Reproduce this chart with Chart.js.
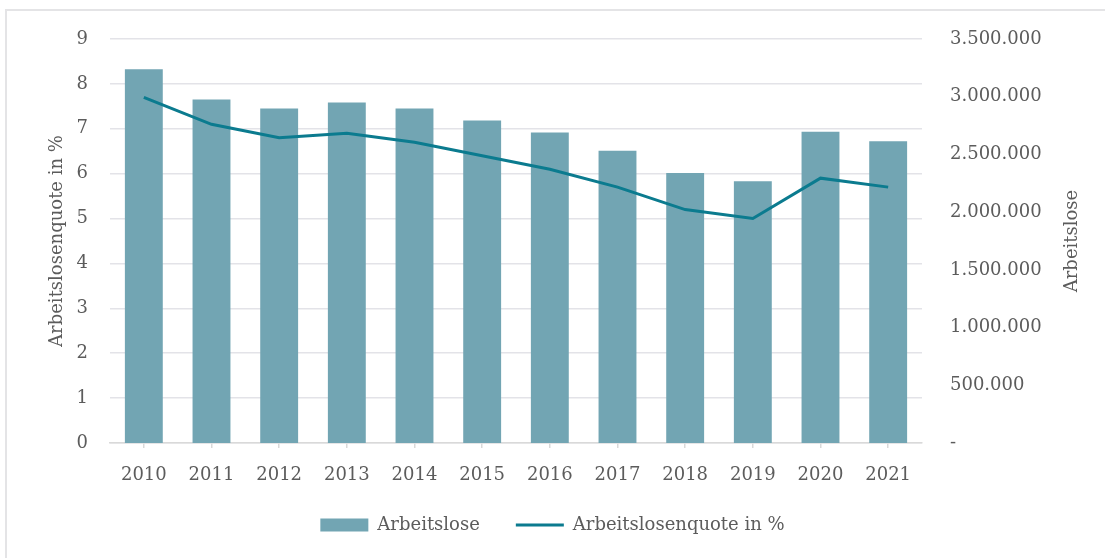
<!DOCTYPE html>
<html>
<head>
<meta charset="utf-8">
<script src="https://cdn.jsdelivr.net/npm/chart.js@4/dist/chart.umd.min.js"></script>
<style>
  html, body { margin: 0; padding: 0; background: #ffffff; }
  body { width: 1105px; height: 558px; position: relative; overflow: hidden; }
  #frame { position: absolute; left: 5px; top: 9px; width: 1200px; height: 700px;
           border-left: 2px solid #e4e4e6; border-top: 2px solid #e4e4e6; }
  #wrap { position: absolute; left: 0; top: 0; width: 1105px; height: 558px; }
</style>
</head>
<body>
<div id="frame"></div>
<div id="wrap"><canvas id="c" width="1105" height="558"></canvas></div>
<script>
const years = ['2010','2011','2012','2013','2014','2015','2016','2017','2018','2019','2020','2021'];
const arbeitslose = [3238965, 2975823, 2896985, 2950338, 2898388, 2794664, 2690975, 2532837, 2340082, 2266720, 2695444, 2613489];
const quote = [7.7, 7.1, 6.8, 6.9, 6.7, 6.4, 6.1, 5.7, 5.2, 5.0, 5.9, 5.7];
const leftTitle = 'Arbeitslosenquote in %';
const rightTitle = 'Arbeitslose';

const FONT = "'DejaVu Serif', serif";
const TXT = '#5c5c5c';

function fmtDE(v) {
  if (v === 0) return '-';
  return String(Math.round(v)).replace(/\B(?=(\d{3})+(?!\d))/g, '.');
}

const rightTitlePlugin = {
  id: 'rightTitle',
  afterDraw(chart) {
    const ctx = chart.ctx;
    const a = chart.chartArea;
    ctx.save();
    ctx.translate(1072, (a.top + a.bottom) / 2);
    ctx.rotate(-Math.PI / 2);
    ctx.font = "18px " + FONT;
    ctx.fillStyle = TXT;
    ctx.textAlign = 'center';
    ctx.textBaseline = 'middle';
    ctx.fillText(rightTitle, 0, 0);
    ctx.restore();
  }
};

new Chart(document.getElementById('c'), {
  data: {
    labels: years,
    datasets: [
      {
        type: 'line',
        label: 'Arbeitslosenquote in %',
        data: quote,
        yAxisID: 'y',
        borderColor: '#0b7b8f',
        backgroundColor: '#0b7b8f',
        borderWidth: 3,
        pointRadius: 0,
        pointHoverRadius: 0,
        pointStyle: 'line',
        tension: 0
      },
      {
        type: 'bar',
        label: 'Arbeitslose',
        data: arbeitslose,
        yAxisID: 'y1',
        backgroundColor: '#72a5b3',
        borderWidth: 0,
        pointStyle: 'rect',
        categoryPercentage: 1.0,
        barPercentage: 0.56
      }
    ]
  },
  options: {
    responsive: false,
    animation: false,
    devicePixelRatio: 1,
    layout: { padding: { left: 0, right: 0, top: 39, bottom: 14 } },
    plugins: {
      tooltip: { enabled: false },
      legend: {
        position: 'bottom',
        labels: {
          usePointStyle: true,
          pointStyleWidth: 48,
          boxHeight: 13,
          padding: 36,
          color: TXT,
          font: { family: FONT, size: 18 },
          sort: (a, b) => b.datasetIndex - a.datasetIndex
        }
      }
    },
    scales: {
      x: {
        grid: { display: true, drawOnChartArea: false, drawTicks: true, tickLength: 5, color: '#d9d9d9', offset: false, lineWidth: 1.5 },
        border: { display: true, color: '#d9d9d9', width: 1.5 },
        ticks: { color: TXT, font: { family: FONT, size: 18 }, padding: 17, maxRotation: 0 },
        afterFit(s) { s.height = 37; }
      },
      y: {
        position: 'left',
        min: 0, max: 9,
        ticks: { stepSize: 1, color: TXT, font: { family: FONT, size: 18 }, padding: 22 },
        grid: { color: '#e3e3e8', lineWidth: 1.5, drawTicks: false },
        border: { display: false },
        title: { display: true, text: leftTitle, color: TXT, font: { family: FONT, size: 18 }, padding: { top: 47, bottom: 0 } },
        afterFit(s) { s.width = 110; }
      },
      y1: {
        position: 'right',
        min: 0, max: 3500000,
        ticks: { stepSize: 500000, color: TXT, font: { family: FONT, size: 18 }, padding: 28, callback: (v) => fmtDE(v) },
        grid: { display: false, drawTicks: false },
        border: { display: false },
        afterFit(s) { s.width = 183; }
      }
    }
  },
  plugins: [rightTitlePlugin]
});
</script>
</body>
</html>
